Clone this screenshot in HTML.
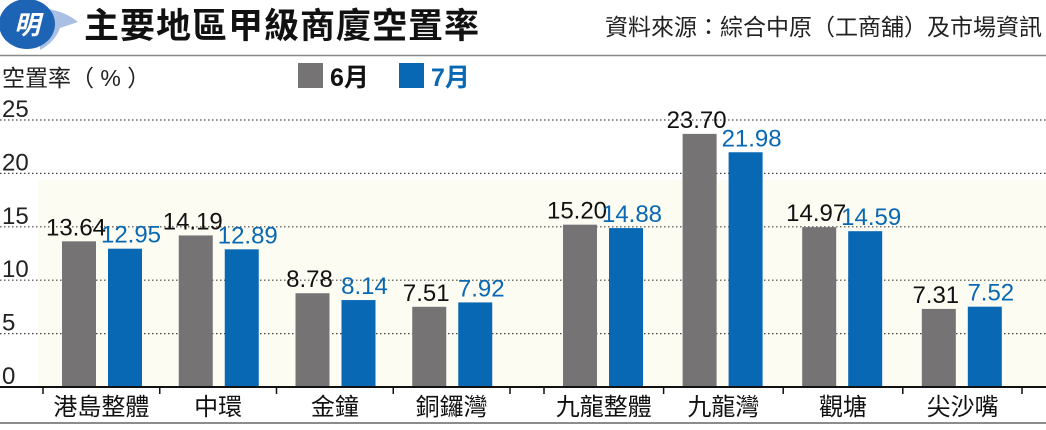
<!DOCTYPE html>
<html><head><meta charset="utf-8">
<style>
body{margin:0;background:#fff;width:1046px;height:425px;overflow:hidden;font-family:"Liberation Sans","Noto Sans CJK TC",sans-serif;}
</style></head>
<body>
<svg width="1046" height="425" viewBox="0 0 1046 425" xmlns="http://www.w3.org/2000/svg" font-family="Liberation Sans, Noto Sans CJK TC, sans-serif">
  <g>
    <path d="M40 8 Q64 10 78 22 L60 28 Q55 42 40 50 Z" fill="#a9c0e4"/>
    <ellipse cx="27" cy="24" rx="28" ry="25" fill="#1e64b4"/>
    <text x="27" y="34" font-size="26" font-weight="bold" font-style="italic" fill="#fff" text-anchor="middle">明</text>
    <text x="84" y="38" font-size="35" font-weight="bold" fill="#111" letter-spacing="1">主要地區甲級商廈空置率</text>
    <text x="1042" y="35" font-size="23" fill="#222" text-anchor="end">資料來源：綜合中原（工商舖）及市場資訊</text>
    <line x1="0" y1="55.5" x2="1046" y2="55.5" stroke="#888" stroke-width="1.5"/>
  </g>
  <text x="2" y="86" font-size="23" fill="#222">空置率（ % ）</text>
  <g>
    <rect x="298" y="63" width="25" height="25" fill="#757374"/>
    <text x="330" y="86" font-size="25" font-weight="bold" fill="#111">6月</text>
    <rect x="399" y="63" width="25" height="25" fill="#0868b4"/>
    <text x="431" y="86" font-size="25" font-weight="bold" fill="#0868b4">7月</text>
  </g>
  <rect x="38" y="180" width="1008" height="207" fill="#fdfcf2"/>
  <g id="grid"></g>
  <g id="bars"></g>
  <line x1="0" y1="387" x2="1046" y2="387" stroke="#111" stroke-width="2"/>
  <g id="xaxis"></g>
  <line x1="0" y1="423" x2="1046" y2="423" stroke="#666" stroke-width="1.5"/>
</svg>
<script>
const categories = ["港島整體","中環","金鐘","銅鑼灣","九龍整體","九龍灣","觀塘","尖沙嘴"];
const june = [13.64,14.19,8.78,7.51,15.20,23.70,14.97,7.31];
const july = [12.95,12.89,8.14,7.92,14.88,21.98,14.59,7.52];
const yTicks = [0,5,10,15,20,25];
const yLabels = ["0","5","10","15","20","25"];

const NS="http://www.w3.org/2000/svg";
function y(v){return 387 - v*10.68;}
function bandStart(i){ return i<4 ? 43 + i*116.75 : 544 + (i-4)*119.6; }
function bandW(i){ return i<4 ? 116.75 : 119.6; }
function mk(tag,attrs,parent){const e=document.createElementNS(NS,tag);for(const k in attrs)e.setAttribute(k,attrs[k]);parent.appendChild(e);return e;}

const grid=document.getElementById('grid');
yTicks.forEach((t,i)=>{
  if(t>0){
    const l=mk('line',{x1:0,x2:1046,y1:y(t),y2:y(t),stroke:'#444','stroke-width':1.2,'stroke-dasharray':'1.5,2.5'},grid);
    
    
  }
  const tx=mk('text',{x:2,y:y(t)-3,'font-size':24,fill:'#222'},grid);
  tx.textContent=yLabels[i];
  
  
});

const bars=document.getElementById('bars');
const xa=document.getElementById('xaxis');
categories.forEach((c,i)=>{
  const bs=bandStart(i), w=bandW(i);
  const gx=bs+19, bx=bs+65, bw=34;
  const r1=mk('rect',{x:gx,y:y(june[i]),width:bw,height:387-y(june[i]),fill:'#757374'},bars);
  
  
  const r2=mk('rect',{x:bx,y:y(july[i]),width:bw,height:387-y(july[i]),fill:'#0868b4'},bars);
  
  
  const t1=mk('text',{x:gx+bw/2-3,y:y(june[i])-6,'font-size':24,fill:'#111','text-anchor':'middle'},bars);
  t1.textContent=june[i].toFixed(2);
  
  
  const t2=mk('text',{x:bx+bw/2+6,y:y(july[i])-6,'font-size':24,fill:'#0868b4','text-anchor':'middle'},bars);
  t2.textContent=july[i].toFixed(2);
  
  
  const tk=mk('line',{x1:bs,x2:bs,y1:387,y2:394,stroke:'#111','stroke-width':1.5},xa);
  
  
  const cl=mk('text',{x:bs+w/2,y:415,'font-size':24,fill:'#111','text-anchor':'middle'},xa);
  cl.textContent=c;
  
  
});
const endTicks=[510,1022];
endTicks.forEach((x,k)=>{
  const tk=mk('line',{x1:x,x2:x,y1:387,y2:394,stroke:'#111','stroke-width':1.5},xa);
  
  
});
</script>
</body></html>
